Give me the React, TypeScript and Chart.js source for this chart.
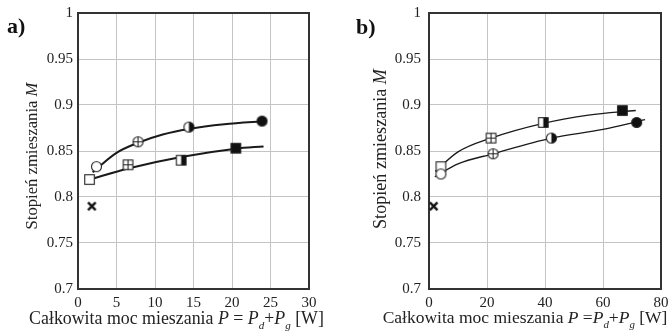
import React, { useEffect, useRef } from "react";
import { Chart, registerables } from "chart.js";
Chart.register(...registerables);

const FONT = '"Liberation Serif", "Times New Roman", serif';
const INK = "#222";

// ---- data: panel a) ----
const aCircleX = [2.4, 7.8, 14.4, 23.9];
const aCircleY = [0.833, 0.860, 0.876, 0.8825];
const aSquareX = [1.5, 6.5, 13.4, 20.5];
const aSquareY = [0.819, 0.835, 0.840, 0.853];
const aCrossX = [1.8];
const aCrossY = [0.790];
const aFitUpperX = [1.9, 5, 7.8, 11, 14.4, 19, 24.5];
const aFitUpperY = [0.827, 0.848, 0.859, 0.868, 0.874, 0.879, 0.8825];
const aFitLowerX = [1.5, 6.5, 13.4, 20.5, 24.1];
const aFitLowerY = [0.819, 0.831, 0.8435, 0.8525, 0.855];

// ---- data: panel b) ----
const bCircleX = [4.1, 22.1, 42.2, 71.6];
const bCircleY = [0.825, 0.847, 0.864, 0.881];
const bSquareX = [4.1, 21.4, 39.4, 66.7];
const bSquareY = [0.833, 0.864, 0.881, 0.894];
const bCrossX = [1.6];
const bCrossY = [0.790];
const bFitUpperX = [2.2, 10, 21.4, 39.4, 55, 71.3];
const bFitUpperY = [0.828, 0.849, 0.864, 0.880, 0.889, 0.894];
const bFitLowerX = [2, 10, 22.1, 42.2, 60, 74.5];
const bFitLowerY = [0.822, 0.836, 0.847, 0.864, 0.8735, 0.884];

// ---- tick labels ----
const yTickValues = [0.7, 0.75, 0.8, 0.85, 0.9, 0.95, 1];
const yTickLabels = ["0.7", "0.75", "0.8", "0.85", "0.9", "0.95", "1"];

const circleKinds = ["circleOpen", "circlePlus", "circleHalf", "circleFilled"];
const squareKinds = ["squareOpen", "squarePlus", "squareHalf", "squareFilled"];

function makeMarker(kind: string): HTMLCanvasElement {
  const s = 15;
  const c = document.createElement("canvas");
  c.width = s;
  c.height = s;
  const g = c.getContext("2d")!;
  const m = s / 2;
  g.strokeStyle = INK;
  g.lineWidth = 1.1;
  if (kind === "cross") {
    g.lineWidth = 2.4;
    g.strokeStyle = "#111";
    const d = 3.8;
    g.beginPath();
    g.moveTo(m - d, m - d);
    g.lineTo(m + d, m + d);
    g.moveTo(m + d, m - d);
    g.lineTo(m - d, m + d);
    g.stroke();
    return c;
  }
  if (kind.startsWith("circle")) {
    const r = 5;
    g.beginPath();
    g.arc(m, m, r, 0, Math.PI * 2);
    g.fillStyle = kind === "circleFilled" ? "#111" : "#fff";
    g.fill();
    g.stroke();
    if (kind === "circleHalf") {
      g.beginPath();
      g.moveTo(m, m - r);
      g.arc(m, m, r, -Math.PI / 2, Math.PI / 2);
      g.closePath();
      g.fillStyle = "#111";
      g.fill();
    }
    if (kind === "circlePlus") {
      g.beginPath();
      g.moveTo(m - r, m);
      g.lineTo(m + r, m);
      g.moveTo(m, m - r);
      g.lineTo(m, m + r);
      g.stroke();
    }
  } else {
    const h = 4.8;
    g.fillStyle = kind === "squareFilled" ? "#111" : "#fff";
    g.fillRect(m - h, m - h, 2 * h, 2 * h);
    g.strokeRect(m - h, m - h, 2 * h, 2 * h);
    if (kind === "squareHalf") {
      g.fillStyle = "#111";
      g.fillRect(m, m - h, h, 2 * h);
    }
    if (kind === "squarePlus") {
      g.beginPath();
      g.moveTo(m - h, m);
      g.lineTo(m + h, m);
      g.moveTo(m, m - h);
      g.lineTo(m, m + h);
      g.stroke();
    }
  }
  return c;
}

type Part = { t: string; it?: boolean; sub?: boolean };

function drawRich(ctx: CanvasRenderingContext2D, parts: Part[], cx: number, base: number, targetW: number) {
  const fontFor = (p: Part, fs: number) =>
    `${p.it ? "italic " : ""}${p.sub ? fs * 0.62 : fs}px ${FONT}`;
  const measure = (fs: number) => {
    let w = 0;
    for (const p of parts) {
      ctx.font = fontFor(p, fs);
      w += ctx.measureText(p.t).width;
    }
    return w;
  };
  const w0 = measure(18);
  const fs = (18 * targetW) / w0;
  const w = measure(fs);
  let x = cx - w / 2;
  ctx.fillStyle = INK;
  ctx.textBaseline = "alphabetic";
  ctx.textAlign = "left";
  for (const p of parts) {
    ctx.font = fontFor(p, fs);
    ctx.fillText(p.t, x, base + (p.sub ? fs * 0.3 : 0));
    x += ctx.measureText(p.t).width;
  }
}

type PanelCfg = {
  left: number;
  width: number;
  areaLeft: number;
  areaRight: number;
  xMax: number;
  xStep: number;
  circleX: number[];
  circleY: number[];
  squareX: number[];
  squareY: number[];
  crossX: number[];
  crossY: number[];
  upX: number[];
  upY: number[];
  loX: number[];
  loY: number[];
  lineW: number;
  label: string;
  labelX: number;
  labelBase: number;
  yTitleX: number;
  yTitleCY: number;
  yTitleW: number;
  xTitleParts: Part[];
  xTitleCX: number;
  xTitleBase: number;
  xTitleW: number;
  yPad: number;
};

const yTitleParts: Part[] = [{ t: "Stopień zmieszania " }, { t: "M", it: true }];

const panels: PanelCfg[] = [
  {
    left: 0,
    width: 334,
    areaLeft: 78,
    areaRight: 309,
    xMax: 30,
    xStep: 5,
    circleX: aCircleX,
    circleY: aCircleY,
    squareX: aSquareX,
    squareY: aSquareY,
    crossX: aCrossX,
    crossY: aCrossY,
    upX: aFitUpperX,
    upY: aFitUpperY,
    loX: aFitLowerX,
    loY: aFitLowerY,
    lineW: 2,
    label: "a)",
    labelX: 7,
    labelBase: 33,
    yTitleX: 37,
    yTitleCY: 156,
    yTitleW: 147,
    xTitleParts: [
      { t: "Całkowita moc mieszania " },
      { t: "P", it: true },
      { t: " = " },
      { t: "P", it: true },
      { t: "d", it: true, sub: true },
      { t: "+" },
      { t: "P", it: true },
      { t: "g", it: true, sub: true },
      { t: " [W]" },
    ],
    xTitleCX: 176.5,
    xTitleBase: 324,
    xTitleW: 295,
    yPad: 5,
  },
  {
    left: 334,
    width: 335,
    areaLeft: 95,
    areaRight: 327,
    xMax: 80,
    xStep: 20,
    circleX: bCircleX,
    circleY: bCircleY,
    squareX: bSquareX,
    squareY: bSquareY,
    crossX: bCrossX,
    crossY: bCrossY,
    upX: bFitUpperX,
    upY: bFitUpperY,
    loX: bFitLowerX,
    loY: bFitLowerY,
    lineW: 1.3,
    label: "b)",
    labelX: 22,
    labelBase: 34,
    yTitleX: 52,
    yTitleCY: 149,
    yTitleW: 160,
    xTitleParts: [
      { t: "Całkowita moc mieszania " },
      { t: "P", it: true },
      { t: " =" },
      { t: "P", it: true },
      { t: "d", it: true, sub: true },
      { t: "+" },
      { t: "P", it: true },
      { t: "g", it: true, sub: true },
      { t: " [W]" },
    ],
    xTitleCX: 191,
    xTitleBase: 323,
    xTitleW: 285,
    yPad: 8,
  },
];

const zip = (xs: number[], ys: number[]) => xs.map((x, i) => ({ x, y: ys[i] }));

function Panel({ cfg }: { cfg: PanelCfg }) {
  const ref = useRef<HTMLCanvasElement>(null);
  useEffect(() => {
    const H = 333;
    const circleImgs = circleKinds.map(makeMarker);
    const squareImgs = squareKinds.map(makeMarker);
    const crossImg = makeMarker("cross");

    const decor = {
      id: "decor" + cfg.label,
      beforeDatasetsDraw(chart: any) {
        const { ctx, chartArea: a } = chart;
        ctx.save();
        ctx.strokeStyle = "#333";
        ctx.lineWidth = 2;
        ctx.strokeRect(a.left, a.top, a.right - a.left, a.bottom - a.top);
        ctx.restore();
      },
      afterDraw(chart: any) {
        const ctx: CanvasRenderingContext2D = chart.ctx;
        ctx.save();
        ctx.font = `bold 22px ${FONT}`;
        ctx.fillStyle = "#111";
        ctx.textBaseline = "alphabetic";
        ctx.textAlign = "left";
        ctx.fillText(cfg.label, cfg.labelX, cfg.labelBase);
        drawRich(ctx, cfg.xTitleParts, cfg.xTitleCX, cfg.xTitleBase, cfg.xTitleW);
        ctx.translate(cfg.yTitleX, cfg.yTitleCY);
        ctx.rotate(-Math.PI / 2);
        drawRich(ctx, yTitleParts, 0, 0, cfg.yTitleW);
        ctx.restore();
      },
    };

    const chart = new Chart(ref.current!, {
      type: "scatter",
      data: {
        datasets: [
          {
            data: zip(cfg.crossX, cfg.crossY),
            pointStyle: crossImg as any,
            pointRadius: 5,
            clip: false as any,
          },
          {
            data: zip(cfg.circleX, cfg.circleY),
            pointStyle: circleImgs as any,
            pointRadius: 5,
            clip: false as any,
          },
          {
            data: zip(cfg.squareX, cfg.squareY),
            pointStyle: squareImgs as any,
            pointRadius: 5,
            clip: false as any,
          },
          {
            data: zip(cfg.upX, cfg.upY),
            showLine: true,
            pointRadius: 0,
            borderColor: "#1a1a1a",
            borderWidth: cfg.lineW,
            cubicInterpolationMode: "monotone",
            clip: false as any,
          },
          {
            data: zip(cfg.loX, cfg.loY),
            showLine: true,
            pointRadius: 0,
            borderColor: "#1a1a1a",
            borderWidth: cfg.lineW,
            cubicInterpolationMode: "monotone",
            clip: false as any,
          },
        ] as any,
      },
      options: {
        animation: false,
        responsive: true,
        maintainAspectRatio: false,
        events: [],
        layout: {
          padding: { left: 0, top: 13, right: cfg.width - cfg.areaRight, bottom: 0 },
        },
        plugins: { legend: { display: false }, tooltip: { enabled: false } },
        scales: {
          x: {
            type: "linear",
            min: 0,
            max: cfg.xMax,
            ticks: {
              stepSize: cfg.xStep,
              padding: 5,
              color: INK,
              font: { family: FONT, size: 15 },
              maxRotation: 0,
            },
            grid: { color: "#c4c4c4", lineWidth: 1, drawTicks: false },
            border: { display: false },
            afterFit(scale: any) {
              scale.height = H - 289;
              scale.paddingLeft = 0;
              scale.paddingRight = 0;
            },
          },
          y: {
            type: "linear",
            min: 0.7,
            max: 1,
            afterBuildTicks(scale: any) {
              scale.ticks = yTickValues.map((v) => ({ value: v }));
            },
            ticks: {
              padding: cfg.yPad,
              color: INK,
              font: { family: FONT, size: 15 },
              callback: (v: any) => {
                const i = yTickValues.findIndex((t) => Math.abs(t - Number(v)) < 1e-6);
                return i >= 0 ? yTickLabels[i] : "";
              },
            },
            grid: { color: "#c4c4c4", lineWidth: 1, drawTicks: false },
            border: { display: false },
            afterFit(scale: any) {
              scale.width = cfg.areaLeft;
              scale.paddingTop = 0;
              scale.paddingBottom = 0;
            },
          },
        },
      } as any,
      plugins: [decor],
    });
    return () => chart.destroy();
  }, [cfg]);
  return (
    <div style={{ position: "absolute", left: cfg.left, top: 0, width: cfg.width, height: 333 }}>
      <canvas ref={ref} />
    </div>
  );
}

export default function App() {
  useEffect(() => {
    document.body.style.margin = "0";
    document.body.style.background = "#fff";
  }, []);
  return (
    <div style={{ position: "relative", width: 669, height: 333, background: "#fff", overflow: "hidden" }}>
      {panels.map((p) => (
        <Panel key={p.label} cfg={p} />
      ))}
    </div>
  );
}
